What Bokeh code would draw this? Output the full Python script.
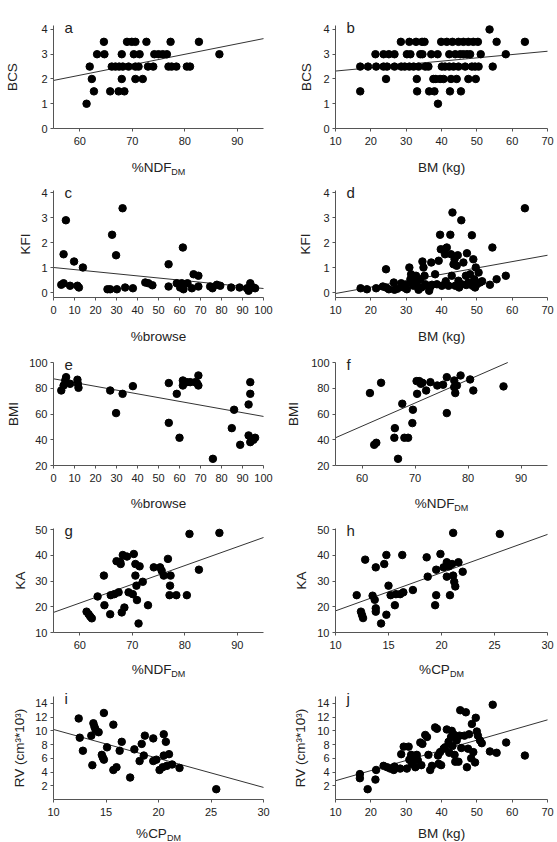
from bokeh.plotting import figure
from bokeh.layouts import gridplot
from bokeh.models import Label, FixedTicker, Range1d
from bokeh.embed import file_html
from bokeh.resources import INLINE

FONT = "Liberation Sans"
TXT = "#222222"
AX = "#555555"

# ---------------- data ----------------
# a: BCS vs %NDF_DM
a_ndf = [61.3, 61.9, 62.3, 62.7, 63.3, 64.6, 64.7, 65.8, 66.1, 66.8, 67.4, 67.5, 68.0, 68.0, 68.2,
         68.5, 69.0, 69.3, 69.9, 70.3, 70.6, 70.6, 70.6, 71.2, 71.4, 72.0, 72.7, 73.0, 74.0, 74.2,
         75.0, 75.8, 76.6, 76.9, 77.3, 77.5, 78.4, 80.4, 81.0, 82.7, 86.6]
a_bcs = [1.0, 2.5, 2.0, 1.5, 3.0, 3.5, 3.0, 1.5, 2.5, 2.5, 1.5, 2.5, 3.0, 2.0, 2.5,
         1.5, 3.5, 2.5, 3.5, 3.0, 3.5, 2.5, 2.0, 2.5, 3.0, 2.0, 3.5, 2.5, 2.5, 3.0,
         3.0, 3.0, 3.0, 2.5, 3.5, 2.5, 2.5, 2.5, 2.5, 3.5, 3.0]
a_fit_x = [55, 95]
a_fit_y = [1.94, 3.63]

# b: BCS vs BM
b_bm = [17.0, 17.0, 19.2, 21.3, 21.5, 23.6, 23.6, 24.3, 24.6, 25.1, 26.7, 26.7, 28.5, 28.6, 29.6,
        30.2, 30.9, 31.2, 30.9, 32.1, 32.8, 33.0, 33.1, 33.5, 34.0, 34.5, 34.6, 35.2, 35.4, 36.3,
        36.5, 37.1, 37.7, 38.0, 38.9, 38.4, 39.0, 39.6, 39.9, 40.1, 40.6, 41.0, 41.5, 42.2, 42.2,
        42.4, 42.7, 43.1, 43.4, 43.9, 44.3, 44.8, 44.8, 45.3, 45.5, 46.2, 46.2, 46.7, 47.2, 47.6,
        47.6, 48.1, 48.6, 49.0, 49.5, 49.7, 50.3, 50.5, 51.1, 53.6, 54.5, 55.6, 58.2, 63.6]
b_bcs = [1.5, 2.5, 2.5, 3.0, 2.5, 3.0, 2.5, 2.0, 2.5, 3.0, 3.0, 2.5, 3.5, 2.5, 2.5,
         3.0, 3.5, 3.0, 2.5, 2.5, 3.5, 2.0, 1.5, 2.5, 3.0, 3.5, 3.0, 3.5, 2.5, 2.5,
         1.5, 3.0, 2.0, 1.5, 3.0, 2.0, 1.0, 2.0, 3.5, 2.5, 2.0, 2.5, 3.5, 3.0, 2.5,
         1.5, 2.0, 3.5, 2.5, 3.0, 2.0, 3.5, 2.5, 3.0, 1.5, 3.5, 3.0, 2.5, 3.0, 3.5,
         2.0, 3.0, 2.5, 3.5, 2.5, 2.0, 3.5, 2.5, 3.0, 4.0, 2.5, 3.5, 3.0, 3.5]
b_fit_x = [10, 70]
b_fit_y = [2.32, 3.12]

# c: KFI vs %browse
c_browse = [3.7, 4.8, 4.8, 5.9, 7.9, 9.8, 11.4, 12.1, 14.0, 25.7, 27.0, 27.9, 29.8, 30.2, 32.9,
            34.1, 37.8, 43.7, 45.2, 47.1, 54.8, 54.8, 58.7, 60.3, 61.1, 61.6, 61.9, 63.8, 65.9, 66.7,
            69.0, 69.0, 74.6, 75.7, 77.8, 79.4, 84.6, 88.6, 92.1, 92.9, 93.7, 94.0, 95.2, 96.0]
c_kfi = [0.31, 0.37, 1.53, 2.89, 0.27, 1.24, 0.27, 0.20, 1.00, 0.13, 0.13, 2.31, 1.49, 0.13, 3.37,
         0.20, 0.17, 0.40, 0.37, 0.29, 1.13, 0.24, 0.37, 0.20, 0.37, 1.80, 0.13, 0.37, 0.17, 0.73,
         0.67, 0.24, 0.24, 0.17, 0.31, 0.27, 0.20, 0.20, 0.17, 0.07, 0.37, 0.24, 0.20, 0.17]
c_fit_x = [0, 100]
c_fit_y = [1.0, 0.16]

# d: KFI vs BM
d_bm = [17.1, 18.9, 21.5, 23.4, 24.3, 24.3, 25.1, 26.5, 26.7, 28.6, 29.3, 29.8, 30.2, 30.9, 31.2,
        31.4, 32.1, 32.8, 33.0, 33.5, 34.0, 34.3, 34.6, 34.9, 35.2, 35.4, 36.1, 36.5, 37.1, 37.3,
        38.2, 38.7, 39.2, 39.6, 39.8, 40.1, 40.9, 41.0, 41.5, 42.0, 42.5, 42.7, 42.9, 43.1, 43.4,
        43.7, 43.9, 44.3, 44.6, 44.8, 45.6, 45.7, 46.2, 46.9, 47.2, 47.6, 48.1, 48.6, 48.8, 49.0,
        49.3, 49.5, 49.7, 50.0, 50.5, 50.9, 53.7, 54.4, 55.6, 58.2, 63.6,
        27.5, 31.8, 36.8, 41.2, 45.0, 47.0, 51.5]
d_kfi = [0.17, 0.13, 0.17, 0.24, 0.93, 0.20, 0.13, 0.40, 0.11, 0.37, 0.20, 0.31, 0.13, 1.00, 0.53,
         0.73, 0.27, 0.67, 0.40, 0.11, 0.53, 0.20, 1.24, 1.00, 0.67, 0.33, 0.27, 0.07, 1.20, 0.31,
         0.73, 0.33, 1.27, 2.31, 1.73, 0.27, 1.73, 1.53, 1.80, 0.27, 2.31, 1.53, 0.67, 3.20, 1.13,
         1.33, 0.27, 1.07, 1.49, 0.47, 2.89, 0.33, 1.20, 0.67, 1.57, 0.40, 0.73, 2.29, 0.27, 1.33,
         0.53, 0.20, 1.00, 0.33, 0.80, 0.40, 0.31, 1.80, 0.53, 0.67, 3.37,
         0.15, 0.35, 0.22, 0.45, 0.20, 0.30, 0.45]
d_fit_x = [10, 70]
d_fit_y = [-0.04, 1.49]

# e: BMI vs %browse
e_browse = [3.7, 4.8, 5.6, 6.0, 7.9, 11.4, 11.6, 11.9, 27.0, 29.8, 32.9, 37.8, 54.9, 54.9, 58.7,
            60.0, 61.6, 61.6, 63.5, 65.1, 67.5, 68.3, 69.0, 69.0, 75.9, 84.9, 86.0, 88.9, 92.9, 92.9,
            93.7, 93.7, 93.7, 95.2, 96.0]
e_bmi = [78.4, 82.3, 86.2, 88.8, 83.6, 86.8, 83.6, 80.5, 78.4, 60.8, 75.8, 81.8, 84.2, 53.2, 75.8,
         41.6, 86.2, 82.3, 84.9, 84.9, 84.9, 84.2, 90.1, 82.3, 25.2, 49.1, 63.4, 36.1, 67.5, 43.4,
         84.9, 75.8, 38.2, 40.0, 41.6]
e_fit_x = [0, 100]
e_fit_y = [87.5, 58.2]

# f: BMI vs %NDF_DM
f_ndf = [61.5, 62.3, 62.7, 63.6, 66.1, 66.2, 66.8, 67.6, 68.0, 68.7, 69.5, 69.6, 70.3, 70.4, 70.8,
         71.1, 71.4, 72.1, 72.9, 74.2, 75.3, 76.0, 76.0, 77.4, 77.4, 77.6, 77.9, 78.6, 80.4, 81.0,
         86.7]
f_bmi = [76.4, 36.1, 37.7, 84.4, 41.6, 49.1, 25.2, 68.1, 41.6, 41.6, 53.0, 63.4, 85.7, 75.8, 85.7,
         83.6, 84.4, 78.4, 84.9, 82.3, 82.9, 88.8, 60.8, 86.2, 81.0, 76.4, 82.3, 90.1, 87.0, 78.4,
         81.6]
f_fit_x = [55, 87.5]
f_fit_y = [41.6, 100.2]

# g: KA vs %NDF_DM
g_ndf = [61.3, 61.7, 62.0, 62.3, 63.4, 64.6, 64.7, 65.8, 65.9, 66.6, 67.0, 67.4, 67.7, 67.8, 68.0,
         68.2, 68.5, 69.0, 69.3, 70.1, 70.3, 70.6, 70.6, 70.8, 70.9, 71.2, 71.4, 72.0, 73.0, 74.1,
         75.3, 75.6, 76.0, 76.8, 77.3, 77.2, 77.1, 78.4, 80.4, 80.9, 82.7, 86.6]
g_ka = [18.1, 17.1, 16.2, 15.5, 24.0, 32.1, 20.6, 17.1, 24.5, 24.9, 37.7, 25.6, 37.5, 36.6, 17.8,
        40.1, 19.7, 39.5, 25.6, 24.9, 40.5, 36.6, 32.1, 28.2, 22.6, 13.5, 35.7, 29.7, 20.6, 35.3,
        35.3, 34.0, 32.1, 38.6, 32.1, 28.2, 24.5, 24.5, 24.5, 48.3, 34.4, 48.7]
g_fit_x = [55, 95]
g_fit_y = [17.8, 46.9]

# h: KA vs %CP_DM
h_cp = [12.0, 12.4, 12.5, 12.6, 12.8, 13.5, 13.7, 13.8, 13.8, 13.8, 14.3, 14.6, 14.8, 14.8, 15.0,
        15.2, 15.6, 15.7, 16.1, 16.3, 16.4, 17.3, 18.6, 18.7, 19.4, 19.5, 19.5, 19.9, 20.2, 20.5,
        20.5, 20.7, 20.8, 21.0, 21.1, 21.1, 21.2, 21.3, 21.6, 22.0, 25.5]
h_ka = [24.5, 18.1, 16.8, 15.6, 38.3, 24.3, 22.7, 35.3, 19.4, 18.1, 13.5, 36.6, 40.1, 16.9, 28.2,
        24.5, 20.6, 24.9, 24.9, 40.1, 25.6, 26.5, 39.2, 31.7, 20.6, 24.5, 34.4, 40.5, 35.3, 37.3,
        31.7, 35.7, 24.5, 36.6, 48.7, 32.1, 29.7, 27.9, 37.3, 33.6, 48.3]
h_fit_x = [10, 30]
h_fit_y = [18.4, 48.1]

# i: RV vs %CP_DM
i_cp = [12.4, 12.5, 12.8, 13.6, 13.7, 13.8, 13.9, 14.0, 14.3, 14.6, 14.7, 14.8, 14.8, 15.1, 15.7,
        15.7, 16.0, 16.3, 16.5, 17.3, 17.7, 18.2, 18.4, 18.6, 18.7, 19.5, 19.5, 19.8, 20.1, 20.4,
        20.5, 20.5, 20.7, 20.8, 21.0, 21.3, 22.0, 25.5]
i_rv = [11.8, 9.0, 7.1, 9.3, 5.0, 11.1, 10.6, 10.2, 9.8, 6.5, 6.1, 12.6, 5.8, 7.6, 10.9,
        4.3, 4.7, 7.1, 8.4, 3.2, 7.3, 5.6, 8.1, 6.4, 9.3, 5.6, 8.9, 5.8, 4.3, 4.7,
        9.5, 6.4, 8.4, 4.9, 6.6, 5.1, 4.6, 1.5]
i_fit_x = [10, 30]
i_fit_y = [10.2, 1.76]

# j: RV vs BM
j_bm = [16.9, 16.9, 19.1, 21.3, 21.5, 23.6, 24.6, 25.5, 26.5, 26.7, 28.3, 28.6, 29.3, 30.2, 30.7,
        30.9, 31.4, 31.6, 32.1, 32.6, 33.0, 33.3, 34.0, 34.3, 34.6, 35.4, 35.9, 36.3, 36.8, 37.3,
        38.2, 38.7, 39.0, 39.2, 39.6, 39.9, 40.6, 41.0, 41.5, 42.0, 42.2, 42.7, 42.9, 43.1, 43.4,
        43.7, 43.9, 44.3, 44.8, 45.1, 45.3, 45.6, 46.5, 46.9, 47.2, 47.5, 47.8, 48.4, 48.6, 49.0,
        49.5, 49.7, 50.0, 50.3, 50.9, 51.4, 53.7, 54.5, 55.6, 58.3, 63.6]
j_rv = [3.7, 3.1, 1.5, 2.9, 4.3, 4.9, 4.7, 4.5, 4.3, 4.8, 4.5, 6.6, 7.7, 4.5, 7.7,
        5.8, 6.5, 5.2, 6.2, 4.7, 6.5, 5.7, 8.3, 5.0, 8.1, 9.4, 9.1, 6.5, 4.3, 4.9,
        10.5, 10.3, 6.4, 5.2, 6.9, 5.0, 7.4, 7.6, 10.2, 8.4, 6.8, 9.1, 10.0, 7.8, 9.5,
        6.5, 5.5, 8.6, 5.5, 9.3, 13.0, 7.5, 9.3, 12.7, 4.7, 7.4, 9.5, 6.0, 11.0, 6.9,
        5.4, 11.9, 9.9, 9.3, 8.6, 8.2, 7.0, 13.8, 6.8, 8.3, 6.4]
j_fit_x = [10, 70]
j_fit_y = [2.73, 11.6]

# axis ticks
ticks_ndf = [60, 70, 80, 90]
ticks_bm = [10, 20, 30, 40, 50, 60, 70]
ticks_browse = [0, 10, 20, 30, 40, 50, 60, 70, 80, 90, 100]
ticks_cp = [10, 15, 20, 25, 30]
ticks_bcs = [0, 1, 2, 3, 4]
ticks_bmi = [20, 40, 60, 80, 100]
ticks_ka = [10, 20, 30, 40, 50]
ticks_rv = [2, 4, 6, 8, 10, 12, 14]

# ---------------- layout helpers ----------------
# (space above data area, data-area height, space below, x-title baseline offset) per row
ROWS = [(25, 103, 49, 39), (13, 107, 49, 39), (16, 103, 49, 38), (14, 104, 49, 37), (15, 103, 43, 34)]
# (space left of data area, data-area width, space right) for each column
COLS = [(53, 210, 15), (57, 212, 10)]

CHAR_W = {"%": 0.889, "N": 0.722, "D": 0.722, "F": 0.611, "C": 0.722, "P": 0.667, "M": 0.833}


def text_width(s, size):
    return sum(CHAR_W.get(ch, 0.556) for ch in s) * size


def panel(row, col, xs, ys, fx, fy, xr, yr, xt, yt, letter, xlab, xsub, ylab, ylab_off):
    tb, fh, bb, lab_off = ROWS[row]
    lb, fw, rb = COLS[col]
    W, H = lb + fw + rb, tb + fh + bb
    dx = (xr[1] - xr[0]) / fw
    dy = (yr[1] - yr[0]) / fh
    p = figure(frame_width=W, frame_height=H,
               min_border_left=0, min_border_right=0, min_border_top=0, min_border_bottom=0,
               x_range=Range1d(xr[0] - lb * dx, xr[1] + rb * dx),
               y_range=Range1d(yr[0] - bb * dy, yr[1] + tb * dy),
               output_backend="svg", toolbar_location=None, tools="")
    p.outline_line_color = None
    p.grid.visible = False
    p.background_fill_color = "white"
    p.border_fill_color = "white"

    p.line(fx, fy, line_color="#333333", line_width=1)
    p.scatter(xs, ys, size=7.5, fill_color="black", line_color="black")

    p.xaxis.ticker = FixedTicker(ticks=xt)
    p.yaxis.ticker = FixedTicker(ticks=yt)
    p.xaxis.fixed_location = yr[0]
    p.xaxis.bounds = xr
    p.yaxis.fixed_location = xr[0]
    p.yaxis.bounds = yr
    for ax in (p.xaxis[0], p.yaxis[0]):
        ax.axis_line_color = AX
        ax.major_tick_line_color = AX
        ax.minor_tick_line_color = None
        ax.major_tick_in = 0
        ax.major_tick_out = 3
        ax.major_label_text_font = FONT
        ax.major_label_text_font_size = "11px"
        ax.major_label_text_color = TXT
    p.xaxis.major_label_standoff = 5
    p.yaxis.major_label_standoff = 3

    xmid = (xr[0] + xr[1]) / 2.0
    ymid = (yr[0] + yr[1]) / 2.0
    main_size, sub_size = 13.5, 9
    if xsub:
        wm = text_width(xlab, main_size)
        ws = text_width(xsub, sub_size)
        right_edge = (wm + ws) / 2.0 - ws
        p.add_layout(Label(x=xmid, y=yr[0], x_offset=right_edge, y_offset=-lab_off, text=xlab,
                           text_align="right", text_baseline="alphabetic",
                           text_font=FONT, text_font_size=f"{main_size}px", text_color=TXT))
        p.add_layout(Label(x=xmid, y=yr[0], x_offset=right_edge, y_offset=-lab_off - 4, text=xsub,
                           text_align="left", text_baseline="alphabetic",
                           text_font=FONT, text_font_size=f"{sub_size}px", text_color=TXT))
    else:
        p.add_layout(Label(x=xmid, y=yr[0], x_offset=0, y_offset=-lab_off, text=xlab,
                           text_align="center", text_baseline="alphabetic",
                           text_font=FONT, text_font_size=f"{main_size}px", text_color=TXT))
    p.add_layout(Label(x=xr[0], y=ymid, x_offset=ylab_off, y_offset=0, text=ylab,
                       angle=90, angle_units="deg",
                       text_align="center", text_baseline="middle",
                       text_font=FONT, text_font_size=f"{main_size}px", text_color=TXT))
    p.add_layout(Label(x=xr[0], y=yr[1], x_offset=11, y_offset=-2, text=letter,
                       text_align="left", text_baseline="alphabetic",
                       text_font=FONT, text_font_size="15px", text_color=TXT))
    return p


RV_LABEL = "RV (cm\u00b3*10\u00b3)"

pa = panel(0, 0, a_ndf, a_bcs, a_fit_x, a_fit_y, (55, 95), (0, 4.16), ticks_ndf, ticks_bcs,
           "a", "%NDF", "DM", "BCS", -41)
pb = panel(0, 1, b_bm, b_bcs, b_fit_x, b_fit_y, (10, 70), (0, 4.16), ticks_bm, ticks_bcs,
           "b", "BM (kg)", None, "BCS", -29)
pc = panel(1, 0, c_browse, c_kfi, c_fit_x, c_fit_y, (0, 100), (-0.2, 4.08), ticks_browse, ticks_bcs,
           "c", "%browse", None, "KFI", -28)
pd = panel(1, 1, d_bm, d_kfi, d_fit_x, d_fit_y, (10, 70), (-0.2, 4.08), ticks_bm, ticks_bcs,
           "d", "BM (kg)", None, "KFI", -30)
pe = panel(2, 0, e_browse, e_bmi, e_fit_x, e_fit_y, (0, 100), (20, 100.2), ticks_browse, ticks_bmi,
           "e", "%browse", None, "BMI", -40)
pf = panel(2, 1, f_ndf, f_bmi, f_fit_x, f_fit_y, (55, 95), (20, 100.2), ticks_ndf, ticks_bmi,
           "f", "%NDF", "DM", "BMI", -42)
pg = panel(3, 0, g_ndf, g_ka, g_fit_x, g_fit_y, (55, 95), (10, 50.4), ticks_ndf, ticks_ka,
           "g", "%NDF", "DM", "KA", -33)
ph = panel(3, 1, h_cp, h_ka, h_fit_x, h_fit_y, (10, 30), (10, 50.4), ticks_cp, ticks_ka,
           "h", "%CP", "DM", "KA", -34)
pi = panel(4, 0, i_cp, i_rv, i_fit_x, i_fit_y, (10, 30), (0, 15), ticks_cp, ticks_rv,
           "i", "%CP", "DM", RV_LABEL, -34)
pj = panel(4, 1, j_bm, j_rv, j_fit_x, j_fit_y, (10, 70), (0, 15), ticks_bm, ticks_rv,
           "j", "BM (kg)", None, RV_LABEL, -35)

grid = gridplot([[pa, pb], [pc, pd], [pe, pf], [pg, ph], [pi, pj]],
                toolbar_location=None, merge_tools=False)

open("out.html", "w").write(file_html(grid, INLINE))
